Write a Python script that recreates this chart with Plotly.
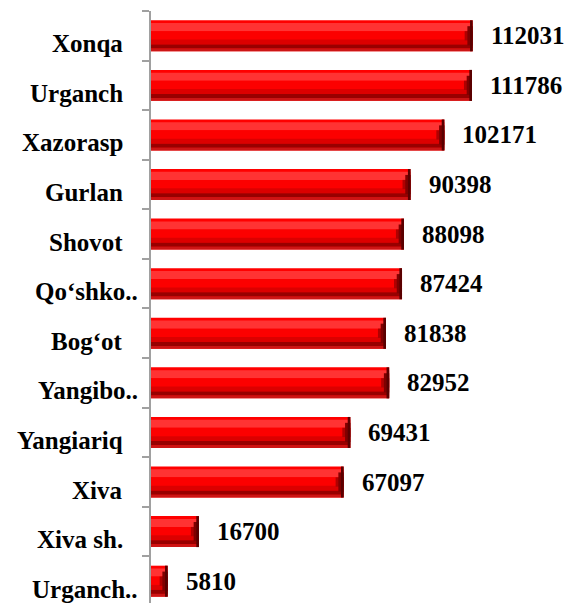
import plotly.graph_objects as go

categories = ["Xonqa", "Urganch", "Xazorasp", "Gurlan", "Shovot", "Qo‘shko..",
              "Bog‘ot", "Yangibo..", "Yangiariq", "Xiva", "Xiva sh.", "Urganch.."]
values = [112031, 111786, 102171, 90398, 88098, 87424, 81838, 82952, 69431, 67097, 16700, 5810]

FONT = "'Liberation Serif', 'Times New Roman', 'DejaVu Serif', serif"
BAR_W = 0.625          # bar thickness in category units
BEVEL = 2800           # width of right-end bevel in data units

fig = go.Figure()

# horizontal bands of the bevelled bar: (start fraction, end fraction, colour)
bands = [
    (0.00, 1.00, "#FF0000"),
    (0.09, 0.35, "#FF3333"),
    (0.35, 0.62, "#FC0000"),
    (0.62, 0.78, "#DC0000"),
    (0.78, 0.91, "#980000"),
    (0.91, 1.00, "#CC1515"),
]
for f0, f1, col in bands:
    fig.add_trace(go.Bar(
        y=categories, x=values, orientation="h",
        offset=-BAR_W / 2 + f0 * BAR_W, width=(f1 - f0) * BAR_W,
        marker=dict(color=col, line=dict(width=0)),
        hoverinfo="skip", showlegend=False,
    ))

# right-end bevel (stepped triangle)
bevel_steps = [
    (1.0, 0.30, "#B00000"),
    (0.66, 0.62, "#800000"),
    (0.33, 1.00, "#5A0000"),
]
for frac_len, frac_h, col in bevel_steps:
    fig.add_trace(go.Bar(
        y=categories,
        x=[min(BEVEL * frac_len, v) for v in values],
        base=[v - min(BEVEL * frac_len, v) for v in values],
        orientation="h",
        offset=-BAR_W * frac_h / 2, width=BAR_W * frac_h,
        marker=dict(color=col, line=dict(width=0)),
        hoverinfo="skip", showlegend=False,
    ))

annotations = []
for c, v in zip(categories, values):
    annotations.append(dict(
        x=v, y=c, xref="x", yref="y", text="<b>%d</b>" % v, showarrow=False,
        xanchor="left", xshift=16,
        font=dict(family=FONT, size=25, color="black"),
    ))
    annotations.append(dict(
        x=0, y=c, xref="paper", yref="y", text="<b>%s</b>" % c, showarrow=False,
        xanchor="right", xshift=-26 + (15 if c.endswith("..") else 0), yshift=-8,
        font=dict(family=FONT, size=25, color="black"),
    ))

fig.update_layout(
    width=571, height=603,
    margin=dict(l=151, r=18, t=11, b=0),
    paper_bgcolor="white", plot_bgcolor="white",
    barmode="overlay",
    annotations=annotations,
    xaxis=dict(range=[0, 140000], visible=False),
    yaxis=dict(
        type="category", range=[11.44, -0.5],
        showline=True, linecolor="#A0A0A0", linewidth=2,
        ticks="outside", tickson="boundaries", ticklen=7, tickwidth=2, tickcolor="#A0A0A0",
        showticklabels=False, showgrid=False, zeroline=False,
    ),
)

fig.write_html("out.html", config={"displayModeBar": False},
               post_script="document.body.style.margin='0px';")
